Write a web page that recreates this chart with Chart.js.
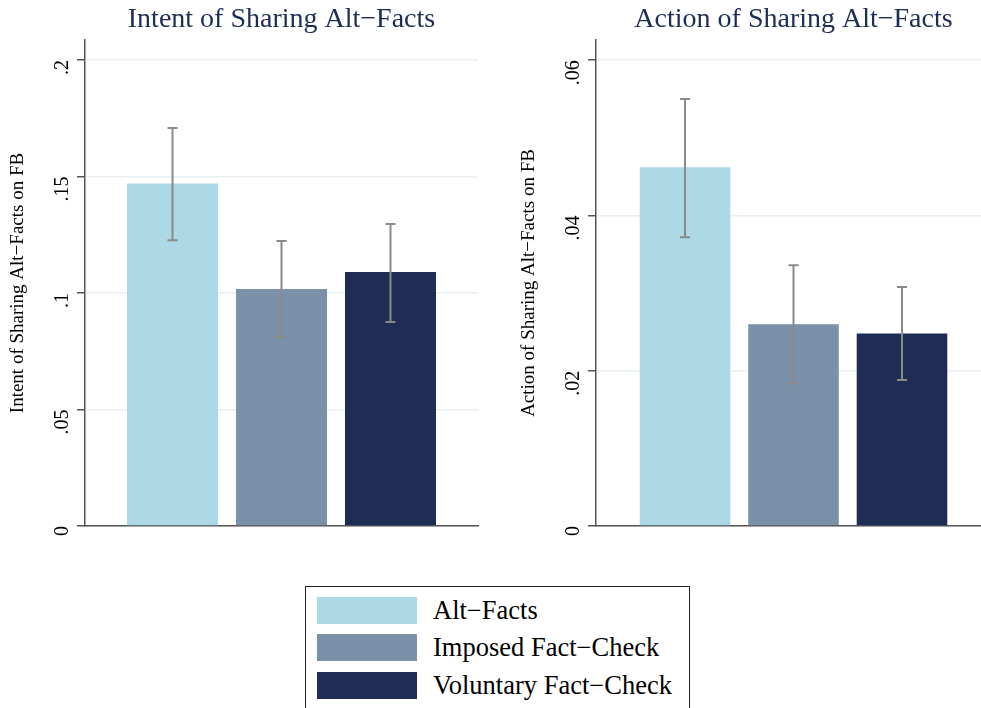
<!DOCTYPE html>
<html>
<head>
<meta charset="utf-8">
<script src="https://cdn.jsdelivr.net/npm/chart.js@4"></script>
<style>
  html, body { margin: 0; padding: 0; background: #fff; width: 981px; height: 708px; overflow: hidden; }
  #c1wrap { position: absolute; left: 0; top: 0; width: 490px; height: 546px; }
  #c2wrap { position: absolute; left: 511px; top: 0; width: 480px; height: 546px; }
  #legend { position: absolute; left: 305px; top: 586px; width: 385px; height: 140px; border: 1px solid #222; box-sizing: border-box; }
  .item { position: absolute; left: 11px; height: 27px; }
  .sw { position: absolute; left: 0; top: 0; width: 100px; height: 27px; }
  .lab { position: absolute; left: 116px; top: -2px; white-space: nowrap; font-family: "Liberation Serif", serif; font-size: 26.5px; line-height: 30px; color: #000; }
</style>
</head>
<body>
<div id="c1wrap"><canvas id="c1"></canvas></div>
<div id="c2wrap"><canvas id="c2"></canvas></div>
<div id="legend"></div>
<script>
// ---- data ----
const groups = ["Alt\u2212Facts", "Imposed Fact\u2212Check", "Voluntary Fact\u2212Check"];
const colors = ["#add8e6", "#7b91a9", "#1f2d55"];

const intentTitle = "Intent of Sharing Alt\u2212Facts";
const intentAxisTitle = "Intent of Sharing Alt\u2212Facts on FB";
const intentMeans = [0.147, 0.1017, 0.109];
const intentLower = [0.1227, 0.0811, 0.0876];
const intentUpper = [0.1708, 0.1223, 0.1296];
const intentTicks = [0, 0.05, 0.1, 0.15, 0.2];
const intentMax = 0.2086;

const actionTitle = "Action of Sharing Alt\u2212Facts";
const actionAxisTitle = "Action of Sharing Alt\u2212Facts on FB";
const actionMeans = [0.0462, 0.0260, 0.0248];
const actionLower = [0.0372, 0.0184, 0.0188];
const actionUpper = [0.0550, 0.0336, 0.0308];
const actionTicks = [0, 0.02, 0.04, 0.06];
const actionMax = 0.0626;

const serif = "'Liberation Serif', 'Times New Roman', serif";

const errorBarPlugin = {
  id: 'errbars',
  afterDatasetsDraw(chart) {
    const ctx = chart.ctx;
    const y = chart.scales.y;
    ctx.save();
    ctx.strokeStyle = '#8a8a8a';
    ctx.lineWidth = 2;
    chart.data.datasets.forEach((ds, i) => {
      const meta = chart.getDatasetMeta(i);
      meta.data.forEach((bar, j) => {
        const x = bar.x;
        const yl = y.getPixelForValue(ds.errLow[j]);
        const yu = y.getPixelForValue(ds.errHigh[j]);
        ctx.beginPath();
        ctx.moveTo(x, yl); ctx.lineTo(x, yu);
        ctx.moveTo(x - 5, yl); ctx.lineTo(x + 5, yl);
        ctx.moveTo(x - 5, yu); ctx.lineTo(x + 5, yu);
        ctx.stroke();
      });
    });
    ctx.restore();
  }
};

function fmt(v) {
  if (v === 0) return '0';
  return String(Number(v.toFixed(4))).replace(/^0\./, '.');
}

function makeChart(id, title, axisTitle, means, lower, upper, ticks, maxV, catPct, padRight) {
  const datasets = groups.map((g, i) => ({
    label: g,
    data: [means[i]],
    errLow: [lower[i]],
    errHigh: [upper[i]],
    backgroundColor: colors[i],
    borderWidth: 0,
    categoryPercentage: catPct,
    barPercentage: 0.835
  }));
  return new Chart(document.getElementById(id), {
    type: 'bar',
    data: { labels: [''], datasets },
    plugins: [errorBarPlugin],
    options: {
      responsive: true,
      maintainAspectRatio: false,
      animation: false,
      layout: { padding: { top: 0, bottom: 20, left: 0, right: padRight } },
      plugins: {
        legend: { display: false },
        tooltip: { enabled: false },
        title: {
          display: true, text: title, color: '#1e2d55', fullSize: false,
          font: { family: serif, size: 28, weight: 'normal' },
          padding: { top: 3, bottom: 3.4 }
        }
      },
      scales: {
        x: {
          grid: { display: false, drawTicks: false },
          border: { display: true, color: '#555', width: 1.5 },
          ticks: { display: false },
          afterFit(s) { s.height = 0; s.paddingLeft = 0; s.paddingRight = 0; }
        },
        y: {
          min: 0, max: maxV,
          afterBuildTicks(s) { s.ticks = ticks.map(v => ({ value: v })); },
          grid: { color: '#e8f0f2', lineWidth: 1.5, tickColor: '#555', tickLength: 8, drawTicks: true },
          border: { display: true, color: '#555', width: 1.5 },
          ticks: {
            color: '#000', padding: 14, minRotation: 90, maxRotation: 90,
            font: { family: serif, size: 20 },
            callback: (v) => fmt(v)
          },
          title: {
            display: true, text: axisTitle, color: '#000',
            font: { family: serif, size: 19 },
            padding: { top: 7, bottom: 0 }
          },
          afterFit(s) { s.width = 85; s.paddingTop = 0; s.paddingBottom = 0; }
        }
      }
    }
  });
}

makeChart('c1', intentTitle, intentAxisTitle, intentMeans, intentLower, intentUpper, intentTicks, intentMax, 0.832, 12);
makeChart('c2', actionTitle, actionAxisTitle, actionMeans, actionLower, actionUpper, actionTicks, actionMax, 0.824, 0);

// legend
const leg = document.getElementById('legend');
const tops = [10, 47, 85];
groups.forEach((g, i) => {
  const it = document.createElement('div');
  it.className = 'item';
  it.style.top = tops[i] + 'px';
  const sw = document.createElement('div');
  sw.className = 'sw';
  sw.style.background = colors[i];
  const lb = document.createElement('div');
  lb.className = 'lab';
  lb.textContent = g;
  it.appendChild(sw); it.appendChild(lb);
  leg.appendChild(it);
});
</script>
</body>
</html>
